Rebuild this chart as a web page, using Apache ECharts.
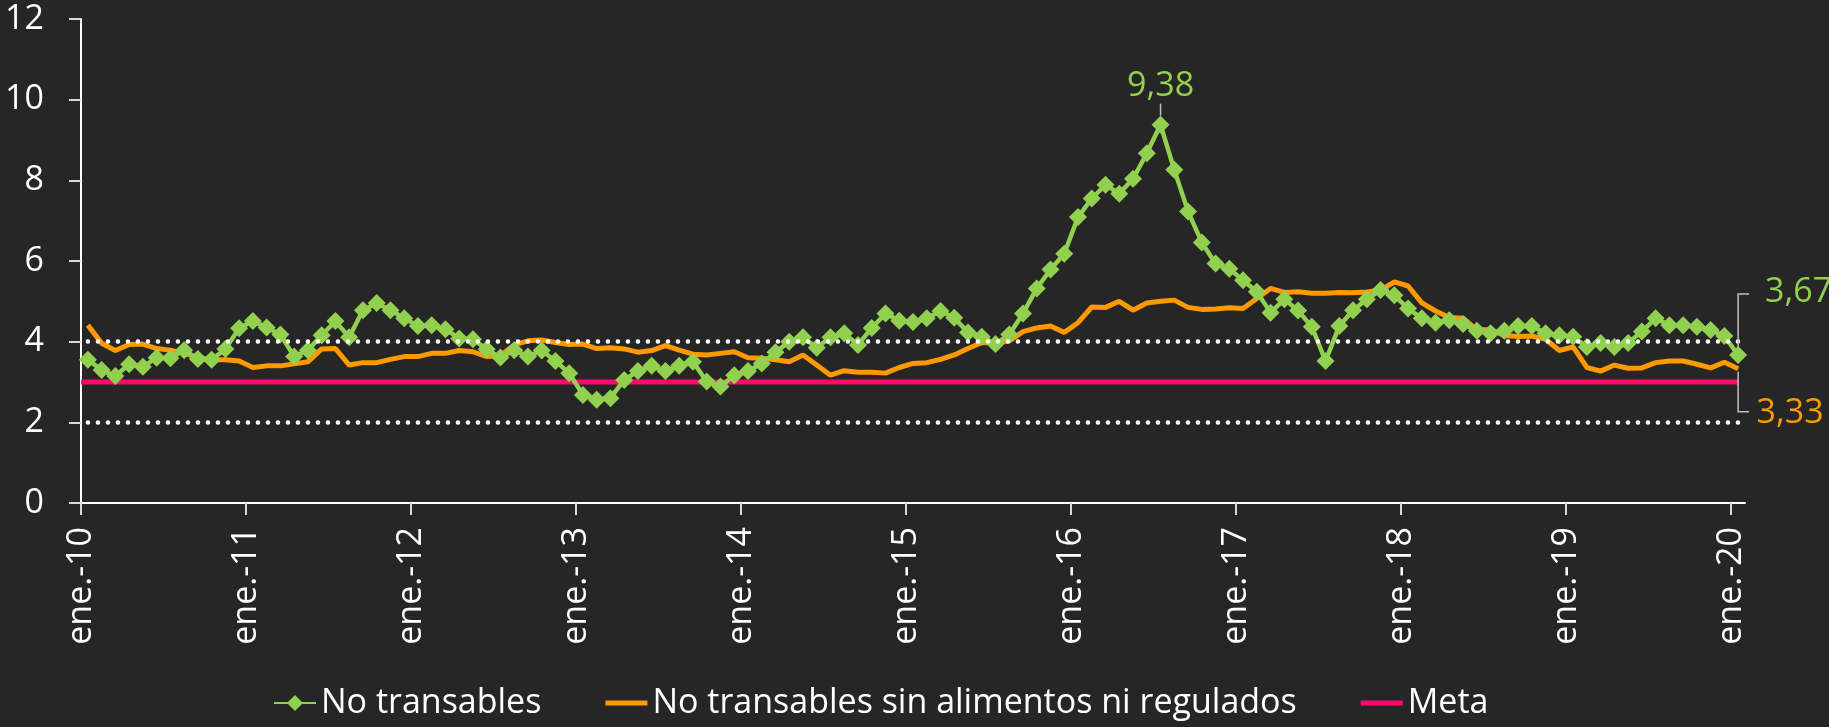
<!DOCTYPE html>
<html>
<head>
<meta charset="utf-8">
<script src="https://cdn.jsdelivr.net/npm/echarts@6/dist/echarts.min.js"></script>
<style>
    html, body { margin: 0; padding: 0; background: #262626; }
    #chart { width: 1829px; height: 727px; }
</style>
</head>
<body>
<div id="chart"></div>
<script>
// meses y años del eje
const meses = ['ene.', 'feb.', 'mar.', 'abr.', 'may.', 'jun.', 'jul.', 'ago.', 'sep.', 'oct.', 'nov.', 'dic.'];
const anios = ['10', '11', '12', '13', '14', '15', '16', '17', '18', '19', '20'];

// No transables (ene-10 .. ene-20)
const noTransables = [
    3.55, 3.30, 3.15, 3.44, 3.38, 3.60, 3.59, 3.79, 3.57, 3.55, 3.82, 4.33,
    4.51, 4.35, 4.18, 3.63, 3.79, 4.16, 4.51, 4.11, 4.78, 4.96, 4.78, 4.58,
    4.39, 4.41, 4.31, 4.08, 4.06, 3.81, 3.61, 3.79, 3.63, 3.78, 3.52, 3.22,
    2.68, 2.56, 2.60, 3.05, 3.27, 3.40, 3.27, 3.40, 3.50, 3.01, 2.89, 3.17,
    3.27, 3.46, 3.74, 4.00, 4.11, 3.85, 4.11, 4.21, 3.92, 4.34, 4.70, 4.52,
    4.49, 4.58, 4.76, 4.59, 4.23, 4.12, 3.94, 4.18, 4.70, 5.32, 5.79, 6.18,
    7.09, 7.55, 7.89, 7.67, 8.04, 8.67, 9.38, 8.26, 7.23, 6.46, 5.94, 5.81,
    5.52, 5.24, 4.72, 5.05, 4.77, 4.37, 3.52, 4.39, 4.78, 5.05, 5.28, 5.15,
    4.82, 4.58, 4.47, 4.53, 4.44, 4.27, 4.21, 4.27, 4.39, 4.39, 4.21, 4.16,
    4.12, 3.87, 3.97, 3.87, 3.97, 4.25, 4.58, 4.41, 4.41, 4.37, 4.29, 4.14,
    3.67
];

// No transables sin alimentos ni regulados
const sinAlimentos = [
    4.41, 3.96, 3.78, 3.93, 3.94, 3.83, 3.79, 3.71, 3.61, 3.55, 3.55, 3.52,
    3.36, 3.40, 3.40, 3.45, 3.50, 3.82, 3.83, 3.42, 3.48, 3.48, 3.56, 3.63,
    3.63, 3.71, 3.71, 3.78, 3.75, 3.63, 3.65, 3.92, 4.02, 4.04, 3.98, 3.93,
    3.94, 3.83, 3.85, 3.82, 3.74, 3.78, 3.90, 3.79, 3.69, 3.67, 3.71, 3.75,
    3.60, 3.59, 3.55, 3.50, 3.67, 3.42, 3.17, 3.28, 3.24, 3.24, 3.22, 3.36,
    3.46, 3.48, 3.56, 3.67, 3.83, 3.98, 3.97, 4.02, 4.25, 4.34, 4.39, 4.23,
    4.47, 4.86, 4.85, 5.00, 4.78, 4.96, 5.00, 5.03, 4.85, 4.80, 4.81, 4.84,
    4.82, 5.07, 5.32, 5.22, 5.24, 5.20, 5.20, 5.22, 5.21, 5.23, 5.28, 5.48,
    5.38, 4.96, 4.76, 4.60, 4.58, 4.29, 4.30, 4.15, 4.13, 4.14, 4.06, 3.78,
    3.87, 3.36, 3.27, 3.42, 3.34, 3.35, 3.48, 3.52, 3.52, 3.44, 3.35, 3.49,
    3.33
];

const meta = 3;
const bandas = [2, 4];

const colors = {
    green: '#92d050',
    orange: '#ff9900',
    pink: '#ff0a6c',
    text: '#ffffff',
    axis: '#d9d9d9',
    leader: '#bfbfbf',
};
const font = 'Open Sans';
const fontSize = 34;
const lineIcon = 'path://M0,0 L42,0 L42,5 L0,5 Z';

// categorias mensuales
const categories = [];
anios.forEach(a => {
    meses.forEach(m => categories.push(m + '-' + a));
});
categories.length = noTransables.length; // termina en ene.-20

const tickValues = [];
categories.forEach((c, i) => {
    if (c.startsWith('ene.')) tickValues.push(i);
});

// cada mes ocupa una celda; el punto va al centro de la celda
const toPoints = arr => arr.map((v, i) => [i + 0.5, v]);
const last = noTransables.length - 1;
const peak = noTransables.indexOf(Math.max(...noTransables));
const fmt = v => v.toFixed(2).replace('.', ',');

// desplazamiento vertical de las etiquetas finales
const dyGreen = -63;
const dyOrange = 45;

const greenData = toPoints(noTransables);
greenData[peak] = {
    value: greenData[peak],
    label: { show: true, position: 'top', distance: 12, formatter: fmt(noTransables[peak]) },
    labelLine: { show: true, lineStyle: { color: colors.leader, width: 1.5 } },
};
greenData[last] = {
    value: greenData[last],
    label: { show: true, position: 'right', distance: 18, formatter: fmt(noTransables[last]) },
};

const orangeData = toPoints(sinAlimentos);
orangeData[last] = {
    value: orangeData[last],
    symbol: 'circle',
    symbolSize: 1,
    label: { show: true, position: 'right', distance: 18, formatter: fmt(sinAlimentos[last]) },
};

const chart = echarts.init(document.getElementById('chart'));

const option = {
    backgroundColor: '#262626',
    animation: false,
    textStyle: { fontFamily: font },
    grid: {
        left: 81,
        right: 84,
        top: 19,
        bottom: 224,
    },
    legend: {
        bottom: 2,
        left: 268,
        itemWidth: 42,
        itemHeight: 20,
        itemGap: 64,
        textStyle: { color: colors.text, fontSize: fontSize, fontFamily: font },
        data: [
            { name: 'No transables' },
            { name: 'No transables sin alimentos ni regulados', icon: lineIcon },
            { name: 'Meta', icon: lineIcon },
        ],
    },
    xAxis: {
        type: 'value',
        min: 0,
        max: categories.length,
        splitLine: { show: false },
        axisLine: { lineStyle: { color: colors.text, width: 2 } },
        axisTick: {
            customValues: tickValues,
            length: 12,
            lineStyle: { color: colors.axis, width: 2 },
        },
        axisLabel: {
            customValues: tickValues,
            rotate: 90,
            margin: 24,
            color: colors.text,
            fontSize: fontSize,
            fontFamily: font,
            formatter: v => categories[v] || '',
        },
    },
    yAxis: {
        type: 'value',
        min: 0,
        max: 12,
        interval: 2,
        splitLine: { show: false },
        axisLine: { show: true, lineStyle: { color: colors.text, width: 2 } },
        axisTick: {
            show: true,
            length: 12,
            lineStyle: { color: colors.axis, width: 2 },
        },
        axisLabel: {
            margin: 37,
            color: colors.text,
            fontSize: fontSize,
            fontFamily: font,
        },
    },
    series: [
        {
            name: 'Meta',
            type: 'line',
            data: [[0, meta], [last + 0.5, meta]],
            symbol: 'none',
            lineStyle: { color: colors.pink, width: 5 },
            itemStyle: { color: colors.pink },
            z: 1,
            markLine: {
                silent: true,
                symbol: 'none',
                label: { show: false },
                lineStyle: { color: '#ffffff', width: 4.5, type: [0.1, 9.9], cap: 'round' },
                data: bandas.map(b => [{ coord: [0.5, b] }, { coord: [last + 0.5, b] }]),
            },
        },
        {
            name: 'No transables sin alimentos ni regulados',
            type: 'line',
            data: orangeData,
            symbol: 'none',
            lineStyle: { color: colors.orange, width: 5 },
            itemStyle: { color: colors.orange },
            label: { color: colors.orange, fontSize: fontSize, fontFamily: font },
            labelLayout: p => (p.dataIndex === last ? { dy: dyOrange } : {}),
            z: 2,
        },
        {
            name: 'No transables',
            type: 'line',
            data: greenData,
            symbol: 'diamond',
            symbolSize: 18,
            lineStyle: { color: colors.green, width: 4.5 },
            itemStyle: { color: colors.green },
            label: { color: colors.green, fontSize: fontSize, fontFamily: font },
            labelLayout: p => (p.dataIndex === last ? { dy: dyGreen } : {}),
            z: 3,
        },
    ],
};

chart.setOption(option);

// lineas guia (corchetes) de las etiquetas finales
const gp = chart.convertToPixel({ gridIndex: 0 }, [last + 0.5, noTransables[last]]);
const op = chart.convertToPixel({ gridIndex: 0 }, [last + 0.5, sinAlimentos[last]]);
const bracket = (p, from, dy) => ({
    type: 'polyline',
    silent: true,
    z: 10,
    shape: { points: [[p[0], p[1] + from], [p[0], p[1] + dy], [p[0] + 11, p[1] + dy]] },
    style: { stroke: colors.leader, lineWidth: 1.5, fill: null },
});
chart.setOption({
    graphic: [bracket(gp, -8, dyGreen + 2), bracket(op, 3, dyOrange - 2)],
});
</script>
</body>
</html>
